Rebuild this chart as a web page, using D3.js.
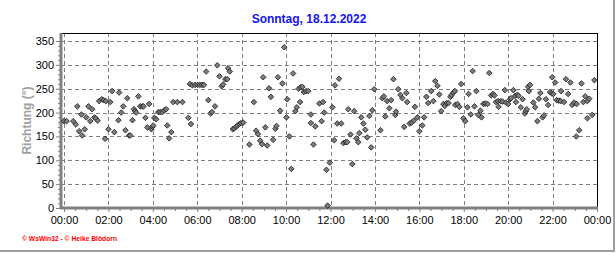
<!DOCTYPE html>
<html>
<head>
<meta charset="utf-8">
<title>Richtung</title>
<script src="https://d3js.org/d3.v7.min.js"></script>
<style>
  body { margin: 0; padding: 0; background: #ffffff; }
  svg { display: block; font-family: Arial, "Liberation Sans", sans-serif; }
</style>
</head>
<body>
<div id="chart"></div>
<script>
// minute of day
var times = [0, 7, 25, 32, 36, 41, 47, 49, 56, 60, 66, 71, 76, 82, 86, 91, 95, 102, 107, 111, 113,
  120, 125, 130, 136, 147, 149, 155, 160, 166, 171, 176, 179, 185, 189, 192, 195, 201, 206, 212, 215,
  220, 225, 230, 236, 239, 241, 244, 249, 255, 260, 266, 271, 276, 279, 284, 290, 295, 306, 320, 336,
  343, 340, 347, 354, 361, 367, 373, 378, 384, 390, 396, 400, 408, 414, 420, 426, 430, 436, 441, 443,
  448, 456, 460, 465, 469, 474, 478, 484, 501, 513, 519, 524, 530, 535, 538, 544, 549, 554, 559, 565,
  571, 574, 578, 584, 590, 595, 601, 603, 609, 614, 619, 625, 629, 634, 639, 644, 638, 648, 654, 660,
  667, 667, 679, 674, 690, 700, 696, 703, 709, 718, 712,
  725, 732, 743, 730, 738, 749, 755, 761, 765, 768, 774, 779, 784, 790, 795, 798, 803, 809, 814, 819,
  825, 830, 833, 838, 855, 860, 864, 868, 873, 879, 884, 890, 895, 897, 903, 909, 914, 919, 925, 927,
  934, 939, 945, 948, 955, 960, 968, 973, 979, 984, 992, 998, 1003, 1009, 1014, 1019, 1025, 1029, 1034,
  1039, 1044, 1047, 1052, 1056, 1057, 1063, 1068, 1073, 1079,
  1084, 1090, 1093, 1099, 1104, 1109, 1114, 1119, 1125, 1128, 1133, 1138, 1144, 1149, 1154, 1159, 1163,
  1167, 1173, 1174, 1180, 1185, 1191, 1194, 1200, 1205, 1208, 1214, 1219, 1225, 1228, 1221, 1234, 1239,
  1245, 1248, 1250, 1254, 1259, 1256, 1268, 1273, 1279, 1283, 1287, 1293, 1297, 1302, 1308, 1313, 1318,
  1319, 1327, 1322, 1331, 1337, 1342, 1343, 1351, 1356, 1368, 1362, 1373, 1378, 1385, 1384, 1392, 1398,
  1403, 1408, 1414, 1419, 1414, 1427, 1433];
// wind direction in degrees
var richtung = [182, 182, 182, 175, 213, 161, 196, 152, 165, 190, 213, 182, 207, 190, 188, 183, 224, 228, 226, 145, 224,
  165, 222, 245, 159, 184, 242, 200, 213, 163, 230, 152, 152, 184, 207, 203, 200, 234, 213, 213, 213,
  189, 169, 218, 165, 170, 173, 189, 186, 201, 201, 201, 205, 207, 173, 146, 159, 222, 222, 222, 189,
  176, 260, 257, 258, 258, 258, 258, 258, 286, 226, 198, 201, 213, 299, 276, 255, 259, 270, 270, 293,
  286, 165, 167, 170, 173, 176, 178, 179, 133, 222, 162, 155, 141, 134, 274, 169, 131, 251, 233, 143,
  166, 172, 274, 204, 261, 337, 190, 228, 150, 82, 282, 203, 211, 250, 253, 254, 222, 243, 245, 245,
  196, 178, 171, 133, 219, 222, 182, 200, 80, 95, 5,
  211, 257, 271, 142, 177, 177, 136, 138, 138, 207, 154, 92, 203, 146, 138, 157, 190, 177, 164, 148,
  193, 127, 205, 249, 163, 230, 234, 192, 224, 209, 226, 270, 195, 202, 249, 237, 230, 170, 241, 222,
  177, 179, 183, 212, 190, 161, 173, 190, 233, 220, 245, 224, 266, 256, 238, 203, 218, 214, 220,
  220, 233, 237, 242, 245, 216, 218, 212, 260, 188,
  182, 211, 239, 196, 287, 213, 245, 195, 204, 190, 218, 219, 218, 283, 236, 239, 236,
  222, 224, 212, 224, 223, 247, 221, 218, 228, 230, 247, 235, 237, 235, 222, 211, 228,
  198, 203, 207, 254, 258, 245, 221, 211, 182, 229, 241, 190, 194, 228, 216, 243, 240,
  274, 263, 239, 226, 225, 224, 245, 222, 270, 263, 239, 216, 221, 218, 150, 163, 261,
  222, 234, 224, 229, 188, 195, 268];

var yTicks = [0, 50, 100, 150, 200, 250, 300, 350];
var xTicks = [0, 120, 240, 360, 480, 600, 720, 840, 960, 1080, 1200, 1320, 1440];
var xTickLabels = ["00:00", "02:00", "04:00", "06:00", "08:00", "10:00", "12:00",
  "14:00", "16:00", "18:00", "20:00", "22:00", "00:00"];

var W = 616, H = 253;
var pLeft = 61, pRight = 597, pTop = 33, pBottom = 208;

var svg = d3.select("#chart").append("svg")
  .attr("width", W)
  .attr("height", H);

var x = d3.scaleLinear().domain([0, 1440]).range([64, pRight]);
var y = d3.scaleLinear().domain([0, 350]).range([pBottom, 41]);

// outer frame (right and bottom)
svg.append("line").attr("x1", 614).attr("x2", 614).attr("y1", 0).attr("y2", 251)
  .attr("stroke", "#a0a0a0").attr("stroke-width", 2);
svg.append("line").attr("x1", 0).attr("x2", 615).attr("y1", 251).attr("y2", 251)
  .attr("stroke", "#a0a0a0").attr("stroke-width", 2);

// title
svg.append("text")
  .attr("x", 309).attr("y", 23)
  .attr("text-anchor", "middle")
  .attr("font-size", 12).attr("font-weight", "bold")
  .attr("fill", "#1414f0")
  .text("Sonntag, 18.12.2022");

// grid
var grid = svg.append("g")
  .attr("stroke", "#808080").attr("stroke-dasharray", "4,3").attr("stroke-width", 1);
grid.selectAll("hl").data(yTicks.slice(1)).enter().append("line")
  .attr("x1", pLeft).attr("x2", pRight)
  .attr("y1", function (d) { return Math.round(y(d)) + 0.5; })
  .attr("y2", function (d) { return Math.round(y(d)) + 0.5; });
grid.selectAll("vl").data(xTicks.slice(0, -1)).enter().append("line")
  .attr("y1", pTop).attr("y2", pBottom)
  .attr("x1", function (d) { return Math.round(x(d)) + 0.5; })
  .attr("x2", function (d) { return Math.round(x(d)) + 0.5; });

// frame: top/right black, left/bottom gray
svg.append("line").attr("x1", pLeft).attr("x2", pRight + 0.5).attr("y1", pTop + 0.5).attr("y2", pTop + 0.5)
  .attr("stroke", "#000");
svg.append("line").attr("x1", pRight + 0.5).attr("x2", pRight + 0.5).attr("y1", pTop).attr("y2", pBottom)
  .attr("stroke", "#000");

// y axis
var yAxis = svg.append("g").attr("transform", "translate(" + pLeft + ",0)")
  .call(d3.axisLeft(y).tickValues(d3.range(0, 351, 10)).tickSize(3).tickFormat(function (d) {
    return d % 50 === 0 ? d : "";
  }));
yAxis.select(".domain").remove();
yAxis.selectAll(".tick line").attr("stroke", "#808080")
  .attr("x2", function (d) { return d % 50 === 0 ? -5 : -3; });
yAxis.selectAll(".tick text").attr("x", -7).attr("font-size", 11)
  .attr("font-family", "Arial, 'Liberation Sans', sans-serif").attr("fill", "#000");

// x axis
var xAxis = svg.append("g").attr("transform", "translate(0," + pBottom + ")")
  .call(d3.axisBottom(x).tickValues(d3.range(0, 1441, 30)).tickSize(3).tickFormat(function (d) {
    var i = xTicks.indexOf(d);
    return i >= 0 ? xTickLabels[i] : "";
  }));
xAxis.select(".domain").remove();
xAxis.selectAll(".tick line").attr("stroke", "#808080")
  .attr("y2", function (d) { return d % 120 === 0 ? 4 : 3; });
xAxis.selectAll(".tick text").attr("y", 8).attr("font-size", 11)
  .attr("font-family", "Arial, 'Liberation Sans', sans-serif").attr("fill", "#000");

svg.append("line").attr("x1", pLeft).attr("x2", pLeft).attr("y1", pTop).attr("y2", pBottom + 1)
  .attr("stroke", "#808080").attr("stroke-width", 3);
svg.append("line").attr("x1", pLeft - 1).attr("x2", pRight + 1).attr("y1", pBottom).attr("y2", pBottom)
  .attr("stroke", "#808080").attr("stroke-width", 3);

// y label
svg.append("text")
  .attr("transform", "translate(31," + (pTop + pBottom) / 2 + ") rotate(-90)")
  .attr("text-anchor", "middle")
  .attr("font-size", 12).attr("font-weight", "bold")
  .attr("fill", "#a0a0a0")
  .text("Richtung (°)");

// points
var pts = times.map(function (t, i) { return { t: t, v: richtung[i] }; });
svg.append("g").selectAll("path").data(pts).enter().append("path")
  .attr("d", "M0,-2.8L2.8,0L0,2.8L-2.8,0Z")
  .attr("transform", function (d) { return "translate(" + x(d.t) + "," + y(d.v) + ")"; })
  .attr("fill", "#7c7c7c")
  .attr("stroke", "#1a1a1a")
  .attr("stroke-width", 0.8);

// credits
svg.append("text")
  .attr("x", 22).attr("y", 241)
  .attr("font-size", 7).attr("font-weight", "bold")
  .attr("fill", "#ff0000")
  .attr("textLength", 95).attr("lengthAdjust", "spacingAndGlyphs")
  .text("© WsWin32 - © Heike Blödorn");
</script>
</body>
</html>
